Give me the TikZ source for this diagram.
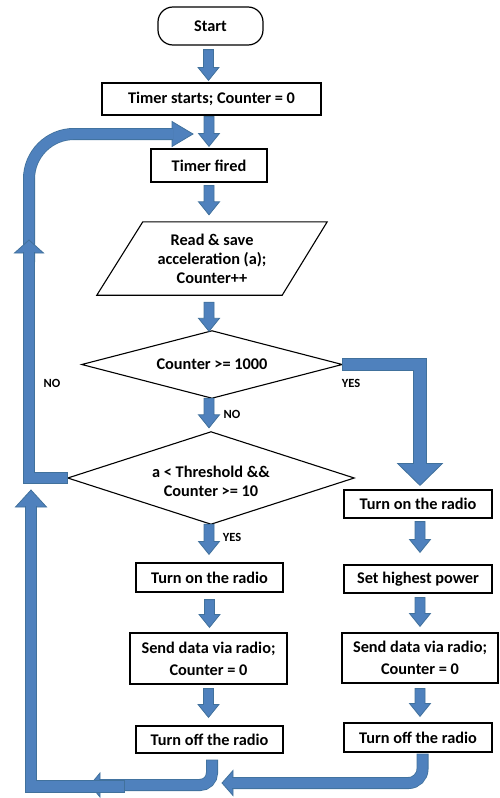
\documentclass[tikz,border=0pt]{standalone}
\usepackage{fontspec}
\setmainfont{Carlito}
\usetikzlibrary{calc}
\definecolor{afill}{HTML}{4F81BD}
\definecolor{aedge}{HTML}{41719C}
\tikzset{
  box/.style={draw=black, line width=1.2pt, inner sep=0pt, align=center,
    font=\bfseries\fontsize{16.3}{19}\selectfont},
  plainshape/.style={inner sep=0pt, align=center,
    font=\bfseries\fontsize{16.3}{19}\selectfont},
  outline/.style={draw=black, line width=1.1pt, line join=miter},
  lbl/.style={inner sep=0pt, font=\bfseries\fontsize{12.5}{14}\selectfont},
  blockarr/.style={fill=afill, draw=aedge, line width=0.8pt, line join=miter}
}
% arrow head: tip coordinate, direction angle, length, half width
\newcommand\ahead[4]{\filldraw[blockarr, shift={(#1)}, rotate=#2]
  (0,0) -- (-#3pt,#4pt) -- (-#3pt,-#4pt) -- cycle;}
% vertical block arrow: start point (gives x), tip point (gives y)
\newcommand\varrow[2]{\filldraw[blockarr] let \p1=(#1), \p2=(#2) in
  (\x1-5pt,\y1) -- (\x1+5pt,\y1) -- (\x1+5pt,\y2+13pt) -- (\x1+10.5pt,\y2+13pt)
  -- (\x1,\y2) -- (\x1-10.5pt,\y2+13pt) -- (\x1-5pt,\y2+13pt) -- cycle;}
% bent shaft: [options]{outer width}{inner width}{path}
\newcommand\bshaft[4][]{%
  \draw[draw=aedge, line width=#2, line join=miter, #1] #4;
  \draw[draw=afill, line width=#3, line join=miter, shorten <=0.8pt, #1] #4;}
\begin{document}
\begin{tikzpicture}[x=1pt,y=1pt]
\useasboundingbox (0,0) rectangle (499,-798);

% nodes
\node[box, rounded corners=15pt, minimum width=105pt, minimum height=38pt] (start) at (210.5,-26) {Start};
\node[box, minimum width=219pt, minimum height=32pt] (timer) at (211.5,-99) {Timer starts; Counter = 0};
\node[box, minimum width=116pt, minimum height=33pt] (fired) at (209,-165.5) {Timer fired};
\node[plainshape, minimum width=230pt, minimum height=73pt] (read) at (212,-258.5)
  {Read \& save\\acceleration (a);\\Counter++};
\draw[outline] ($(read.north west)+(46,0)$) -- (read.north east)
  -- ($(read.south east)+(-45,0)$) -- (read.south west) -- cycle;
\node[plainshape, minimum width=260pt, minimum height=67pt] (d1) at (212,-364.5) {Counter >= 1000};
\draw[outline] (d1.north) -- (d1.east) -- (d1.south) -- (d1.west) -- cycle;
\node[plainshape, minimum width=286pt, minimum height=92pt] (d2) at (211,-481.5)
  {a < Threshold \&\&\\Counter >= 10};
\draw[outline] ($(d2.north)+(0,3.5)$) -- ($(d2.east)+(0,3.5)$) -- ($(d2.south)+(0,3.5)$)
  -- ($(d2.west)+(0,3.5)$) -- cycle;
\node[box, minimum width=147pt, minimum height=29pt] (lon) at (209.5,-577.5) {Turn on the radio};
\node[box, minimum width=157pt, minimum height=51pt] (lsend) at (208.5,-658.5)
  {Send data via radio;\\[3pt]Counter = 0};
\node[box, minimum width=147pt, minimum height=27pt] (loff) at (209.5,-739.5) {Turn off the radio};
\node[box, minimum width=148pt, minimum height=28pt] (ron) at (418,-504) {Turn on the radio};
\node[box, minimum width=148pt, minimum height=28pt] (rpow) at (418,-579) {Set highest power};
\node[box, minimum width=156pt, minimum height=50pt] (rsend) at (420,-658)
  {Send data via radio;\\[3pt]Counter = 0};
\node[box, minimum width=148pt, minimum height=29pt] (roff) at (418,-737.5) {Turn off the radio};

% labels
\node[lbl] (lno1) at (52,-383) {NO};
\node[lbl] (lyes1) at (351,-383) {YES};
\node[lbl] (lno2) at (232,-414) {NO};
\node[lbl] (lyes2) at (232,-537) {YES};

% straight block arrows
\varrow{$(start.south)+(-2,-4)$}{$(timer.north)+(0,2)$}
\varrow{$(timer.south)+(-2.5,-1)$}{$(fired.north)+(0,2)$}
\varrow{$(fired.south)+(0,-3)$}{$(read.north)+(0,7)$}
\varrow{$(read.south)+(-3,-7)$}{$(d1.north)+(0,-0.5)$}
\varrow{$(d1.south)+(-3,0)$}{$(d2.north)+(0,7.5)$}
\varrow{$(d2.south)+(-2,3.5)$}{$(lon.north)+(0,8)$}
\varrow{$(lon.south)+(0,-7)$}{$(lsend.north)+(0,5)$}
\varrow{$(lsend.south)+(0,-4)$}{$(loff.north)+(0,8)$}
\varrow{$(ron.south)+(2,-3)$}{$(rpow.north)+(0,12)$}
\varrow{$(rpow.south)+(2,-4)$}{$(rsend.north)+(0,6)$}
\varrow{$(rsend.south)+(0,-5)$}{$(roff.north)+(0,6)$}

% YES branch to the right column
\coordinate (t9) at ($(ron.north)+(2,4)$);
\ahead{t9}{-90}{22}{22.5}
\bshaft{13.4pt}{11.8pt}{(d1.east) -- (d1.east -| t9) -- ($(t9)+(0,21)$)}

% loop back to the top
\coordinate (s14) at (29,-262);
\coordinate (t14) at (193,-134);
\ahead{t14}{0}{21}{12.5}
\bshaft[rounded corners=45pt]{12pt}{10.4pt}{(s14) -- (s14 |- t14) -- ($(t14)+(-20,0)$)}

% NO branch from second decision
\coordinate (d2w) at ($(d2.west)+(0,3.5)$);
\coordinate (t13) at (29,-240);
\ahead{t13}{90}{13}{14.5}
\bshaft{12pt}{10.4pt}{(d2w) -- (d2w -| t13) -- ($(t13)+(0,-12)$)}

% left column return
\coordinate (s16) at ($(loff.south)+(2.5,-6)$);
\coordinate (t16) at (90,-785);
\ahead{t16}{180}{10}{12}
\bshaft[rounded corners=12pt]{12pt}{10.4pt}{(s16) -- (s16 |- t16) -- ($(t16)+(9,0)$)}

% big return L
\coordinate (s15) at (125,-786.5);
\coordinate (t15) at (31,-490);
\ahead{t15}{90}{17}{15.5}
\bshaft{12.4pt}{10.8pt}{(s15) -- (s15 -| t15) -- ($(t15)+(0,-16)$)}

% right column return
\coordinate (s17) at ($(roff.south)+(4.5,-1)$);
\coordinate (t17) at (222,-783);
\ahead{t17}{180}{11}{12.5}
\bshaft[rounded corners=14pt]{12pt}{10.4pt}{(s17) -- (s17 |- t17) -- ($(t17)+(10,0)$)}
\end{tikzpicture}
\end{document}
